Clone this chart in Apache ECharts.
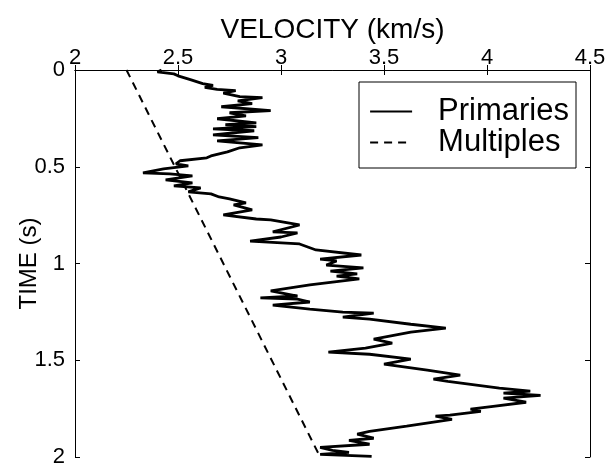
<!DOCTYPE html>
<html>
<head>
<meta charset="utf-8">
<script src="https://cdn.jsdelivr.net/npm/echarts@6/dist/echarts.min.js"></script>
<style>
  html, body { margin: 0; padding: 0; background: #fff; }
  #chart { width: 606px; height: 464px; }
</style>
</head>
<body>
<div id="chart"></div>
<script>
// Interval velocity of the primaries (km/s) versus two-way time (s)
const primaryTime = [
  0.00, 0.01, 0.02, 0.03, 0.05, 0.07, 0.08, 0.09, 0.10, 0.107,
  0.12, 0.138, 0.143, 0.159, 0.174, 0.19, 0.21, 0.221, 0.237, 0.252,
  0.273, 0.283, 0.293, 0.304, 0.314, 0.335, 0.35, 0.366, 0.387, 0.402,
  0.423, 0.444, 0.454, 0.469, 0.485, 0.495, 0.511, 0.532, 0.537, 0.547,
  0.568, 0.583, 0.599, 0.609, 0.630, 0.640, 0.656, 0.666, 0.687, 0.697,
  0.723, 0.749, 0.770, 0.775, 0.801, 0.837, 0.842, 0.863, 0.884, 0.899,
  0.930, 0.956, 0.977, 0.987, 1.008, 1.023, 1.039, 1.054, 1.065, 1.080,
  1.111, 1.142, 1.168, 1.178, 1.184, 1.199, 1.215, 1.236, 1.251, 1.257,
  1.277, 1.288, 1.314, 1.334, 1.355, 1.391, 1.412, 1.437, 1.458, 1.469,
  1.494, 1.520, 1.551, 1.577, 1.598, 1.609, 1.644, 1.660, 1.670, 1.681,
  1.696, 1.717, 1.738, 1.753, 1.764, 1.784, 1.789, 1.805, 1.841, 1.867,
  1.882, 1.903, 1.914, 1.934, 1.950, 1.966, 1.976, 1.986, 1.997
];
const primaryVelocity = [
  2.42, 2.40, 2.48, 2.50, 2.56, 2.62, 2.67, 2.63, 2.69, 2.78,
  2.72, 2.80, 2.91, 2.79, 2.86, 2.71, 2.95, 2.75, 2.83, 2.69,
  2.88, 2.73, 2.88, 2.67, 2.87, 2.67, 2.89, 2.69, 2.91, 2.80,
  2.74, 2.66, 2.64, 2.51, 2.49, 2.55, 2.43, 2.33, 2.46, 2.57,
  2.44, 2.57, 2.48, 2.61, 2.55, 2.66, 2.70, 2.75, 2.83, 2.77,
  2.86, 2.72, 2.88, 2.95, 3.09, 2.96, 3.08, 3.00, 2.85, 3.09,
  3.17, 3.39, 3.19, 3.27, 3.22, 3.40, 3.24, 3.37, 3.27, 3.38,
  3.14, 2.95, 3.08, 2.90, 3.08, 3.14, 2.96, 3.14, 3.30, 3.45,
  3.30, 3.43, 3.63, 3.80, 3.63, 3.45, 3.54, 3.41, 3.23, 3.43,
  3.63, 3.50, 3.71, 3.87, 3.74, 3.81, 4.06, 4.21, 4.08, 4.26,
  4.08, 4.19, 4.03, 3.92, 3.97, 3.82, 3.75, 3.83, 3.61, 3.43,
  3.37, 3.45, 3.33, 3.43, 3.19, 3.25, 3.33, 3.19, 3.44
];

// Straight-line trend predicted for the multiples
const multipleTime = [0, 2];
const multipleVelocity = [2.25, 3.19];

// Axis ranges and ticks
const velocityTicks = [2, 2.5, 3, 3.5, 4, 4.5];
const timeTicks = [0, 0.5, 1, 1.5, 2];

const seriesNames = ['Primaries', 'Multiples'];

const FONT = '"Liberation Sans", Arial, Helvetica, sans-serif';

const toPairs = (vs, ts) => vs.map((v, i) => [v, ts[i]]);

const chart = echarts.init(document.getElementById('chart'), null, { renderer: 'canvas' });

const axisLine = { show: true, lineStyle: { color: '#000', width: 1 } };
const tickIn = { show: true, inside: true, length: 5, lineStyle: { color: '#000', width: 1 } };

const xCommon = {
  type: 'value',
  min: velocityTicks[0],
  max: velocityTicks[velocityTicks.length - 1],
  interval: velocityTicks[1] - velocityTicks[0],
  axisLine: axisLine,
  axisTick: tickIn,
  splitLine: { show: false }
};
const yCommon = {
  type: 'value',
  inverse: true,
  min: timeTicks[0],
  max: timeTicks[timeTicks.length - 1],
  interval: timeTicks[1] - timeTicks[0],
  axisLine: axisLine,
  axisTick: tickIn,
  splitLine: { show: false }
};

chart.setOption({
  animation: false,
  backgroundColor: '#fff',
  textStyle: { fontFamily: FONT, color: '#000' },
  grid: { left: 75, top: 70, right: 16, bottom: 7, containLabel: false, outerBoundsMode: 'none' },
  xAxis: [
    Object.assign({}, xCommon, {
      position: 'top',
      name: 'VELOCITY (km/s)',
      nameLocation: 'middle',
      nameGap: 26,
      nameMoveOverlap: false,
      nameTextStyle: { fontSize: 28, color: '#000', fontFamily: FONT },
      axisLabel: { show: true, fontSize: 22, color: '#000', margin: 1, fontFamily: FONT,
        showMinLabel: true, showMaxLabel: true, hideOverlap: false }
    }),
    Object.assign({}, xCommon, {
      position: 'bottom',
      axisLabel: { show: false }
    })
  ],
  yAxis: [
    Object.assign({}, yCommon, {
      position: 'left',
      name: 'TIME (s)',
      nameLocation: 'middle',
      nameGap: 34,
      nameMoveOverlap: false,
      nameTextStyle: { fontSize: 24, color: '#000', fontFamily: FONT },
      axisLabel: { show: true, fontSize: 22, color: '#000', margin: 10, fontFamily: FONT,
        showMinLabel: true, showMaxLabel: true, hideOverlap: false }
    }),
    Object.assign({}, yCommon, {
      position: 'right',
      axisLabel: { show: false }
    })
  ],
  legend: {
    left: 359,
    top: 82,
    orient: 'vertical',
    data: seriesNames,
    backgroundColor: '#fff',
    borderColor: '#000',
    borderWidth: 1,
    borderRadius: 0,
    padding: [14, 7, 10, 10],
    itemGap: 0,
    itemWidth: 42,
    itemHeight: 30,
    selectedMode: false,
    itemStyle: { opacity: 0 },
    lineStyle: { opacity: 1, width: 2.2 },
    textStyle: { fontSize: 31, color: '#000', fontFamily: FONT, lineHeight: 30,
      padding: [0, 0, 0, 21] }
  },
  series: [
    {
      name: seriesNames[0],
      type: 'line',
      xAxisIndex: 0,
      yAxisIndex: 0,
      data: toPairs(primaryVelocity, primaryTime),
      symbol: 'none',
      showSymbol: false,
      lineStyle: { color: '#000', width: 2.8, type: 'solid' },
      itemStyle: { color: '#000' },
      z: 3
    },
    {
      name: seriesNames[1],
      type: 'line',
      xAxisIndex: 0,
      yAxisIndex: 0,
      data: toPairs(multipleVelocity, multipleTime),
      symbol: 'none',
      showSymbol: false,
      lineStyle: { color: '#000', width: 2, type: [8, 6] },
      itemStyle: { color: '#000' },
      z: 2
    }
  ]
});
</script>
</body>
</html>
